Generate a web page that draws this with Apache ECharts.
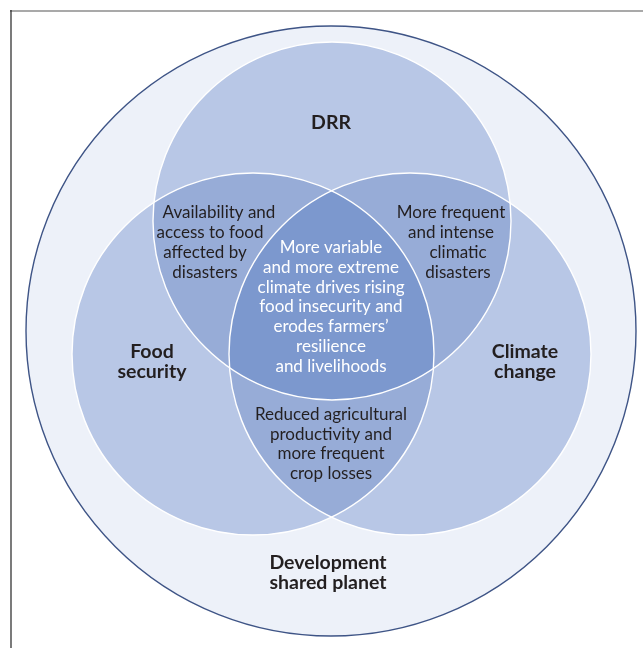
<!DOCTYPE html>
<html>
<head>
<meta charset="utf-8">
<script src="https://cdn.jsdelivr.net/npm/echarts@6/dist/echarts.min.js"></script>
<style>
html,body{margin:0;padding:0;background:#fff;}
#chart{width:643px;height:648px;}
</style>
</head>
<body>
<div id="chart"></div>
<script>
// ---- data (labels of the diagram) ----
const setNames = ['DRR', 'Food\nsecurity', 'Climate\nchange'];
const outerName = 'Development\nshared planet';
const pairDRRFood = ['Availability and', 'access to food', 'affected by', 'disasters'];
const pairDRRClimate = ['More frequent', 'and intense', 'climatic', 'disasters'];
const pairFoodClimate = 'Reduced agricultural\nproductivity and\nmore frequent\ncrop losses';
const centerText = 'More variable\nand more extreme\nclimate drives rising\nfood insecurity and\nerodes farmers\u2019\nresilience\nand livelihoods';

// ---- layout (diagram units == pixels on a hidden 643x648 axis) ----
const W = 643, H = 648;
const outer = { cx: 331, cy: 331, r: 305 };
const circles = [
  { cx: 332, cy: 221, r: 179 },  // DRR
  { cx: 253, cy: 354, r: 181 },  // Food security
  { cx: 410, cy: 354, r: 181 }   // Climate change
];
const colors = {
  outerFill: '#EDF1F9', outerStroke: '#3E5486',
  single: '#B8C7E6', pair: '#97ACD7', triple: '#7C98CE',
  text: '#231F20', white: '#FFFFFF'
};

const regions = [
  { kind: 'outer' },
  { kind: 'disk', k: 0 }, { kind: 'disk', k: 1 }, { kind: 'disk', k: 2 },
  { kind: 'inter', ks: [0, 1], color: colors.pair },
  { kind: 'inter', ks: [0, 2], color: colors.pair },
  { kind: 'inter', ks: [1, 2], color: colors.pair },
  { kind: 'inter', ks: [0, 1, 2], color: colors.triple },
  { kind: 'ring', k: 0 }, { kind: 'ring', k: 1 }, { kind: 'ring', k: 2 }
];

function interPolygon(ks) {
  let px = 0, py = 0;
  ks.forEach(k => { px += circles[k].cx; py += circles[k].cy; });
  px /= ks.length; py /= ks.length;
  const pts = [];
  const N = 720;
  for (let i = 0; i < N; i++) {
    const a = i / N * Math.PI * 2;
    const ux = Math.cos(a), uy = Math.sin(a);
    let tmin = Infinity;
    ks.forEach(k => {
      const c = circles[k];
      const dx = px - c.cx, dy = py - c.cy;
      const b = dx * ux + dy * uy;
      const cc = dx * dx + dy * dy - c.r * c.r;
      const t = -b + Math.sqrt(Math.max(0, b * b - cc));
      if (t < tmin) tmin = t;
    });
    pts.push([px + tmin * ux, py + tmin * uy]);
  }
  return pts;
}

function renderRegion(params, api) {
  const reg = regions[api.value(0)];
  const unit = api.size([1, 1])[0];
  if (reg.kind === 'outer') {
    const p = api.coord([outer.cx, outer.cy]);
    return { type: 'circle', shape: { cx: p[0], cy: p[1], r: outer.r * unit },
      style: { fill: colors.outerFill, stroke: colors.outerStroke, lineWidth: 1.4 } };
  }
  if (reg.kind === 'disk') {
    const c = circles[reg.k];
    const p = api.coord([c.cx, c.cy]);
    return { type: 'circle', shape: { cx: p[0], cy: p[1], r: c.r * unit },
      style: { fill: colors.single } };
  }
  if (reg.kind === 'ring') {
    const c = circles[reg.k];
    const p = api.coord([c.cx, c.cy]);
    return { type: 'circle', shape: { cx: p[0], cy: p[1], r: c.r * unit },
      style: { fill: null, stroke: colors.white, lineWidth: 1.4 } };
  }
  const pts = interPolygon(reg.ks).map(q => api.coord(q));
  return { type: 'polygon', shape: { points: pts }, style: { fill: reg.color } };
}

// text labels: [text, x, y, bold, color, size]
const labels = [
  [setNames[0], 331, 123, true, colors.text, 19.5],
  [setNames[1], 152, 362, true, colors.text, 19.5],
  [setNames[2], 525, 362, true, colors.text, 19.5],
  [outerName, 328, 573, true, colors.text, 19.5],
  [pairFoodClimate, 331, 444, false, colors.text, 17],
  [centerText, 331, 307, false, colors.white, 17]
];
// per-line lens labels (line anchors follow the reference's ragged centring)
const lensLineX = { left: [219, 210, 205, 205], right: [451, 451, 458, 458] };
const lensLineY = [213, 233, 253, 272.5];
pairDRRFood.forEach((t, i) => labels.push([t, lensLineX.left[i], lensLineY[i], false, colors.text, 17]));
pairDRRClimate.forEach((t, i) => labels.push([t, lensLineX.right[i], lensLineY[i], false, colors.text, 17]));

function renderLabel(params, api) {
  const L = labels[api.value(0)];
  const p = api.coord([L[1], L[2]]);
  return {
    type: 'text', x: p[0], y: p[1],
    style: {
      text: L[0], fill: L[4], align: 'center', verticalAlign: 'middle',
      fontFamily: 'Lato', fontSize: L[5], fontWeight: L[3] ? 'bold' : 'normal',
      lineHeight: L[3] ? 20 : 19.7
    }
  };
}

const chart = echarts.init(document.getElementById('chart'), null, { renderer: 'canvas' });
chart.setOption({
  animation: false,
  backgroundColor: '#ffffff',
  grid: { left: 0, right: 0, top: 0, bottom: 0 },
  xAxis: { type: 'value', min: 0, max: W, show: false },
  yAxis: { type: 'value', min: 0, max: H, inverse: true, show: false },
  graphic: [
    { type: 'line', shape: { x1: 10, y1: 11, x2: 643, y2: 11 }, style: { stroke: '#8C8C8C', lineWidth: 1.5 } },
    { type: 'line', shape: { x1: 11, y1: 10, x2: 11, y2: 648 }, style: { stroke: '#222222', lineWidth: 1.2 } }
  ],
  series: [
    { type: 'custom', coordinateSystem: 'cartesian2d', clip: false, silent: true,
      renderItem: renderRegion, data: regions.map((r, i) => [i, 0]) },
    { type: 'custom', coordinateSystem: 'cartesian2d', clip: false, silent: true,
      renderItem: renderLabel, data: labels.map((l, i) => [i, 0]) }
  ]
});
</script>
</body>
</html>
